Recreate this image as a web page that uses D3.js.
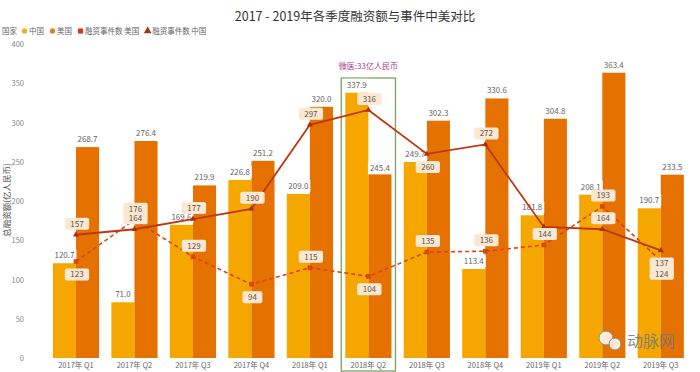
<!DOCTYPE html>
<html>
<head>
<meta charset="utf-8">
<script src="https://cdn.jsdelivr.net/npm/d3@7"></script>
<style>
  body { margin: 0; background: #fff; }
  svg { display: block; font-family: "Noto Sans CJK SC", "Noto Sans", sans-serif; }
</style>
</head>
<body>
<div id="chart"></div>
<script>
// chart values
const quarters = ['2017年 Q1', '2017年 Q2', '2017年 Q3', '2017年 Q4', '2018年 Q1', '2018年 Q2',
    '2018年 Q3', '2018年 Q4', '2019年 Q1', '2019年 Q2', '2019年 Q3'];
const chinaAmount = [120.7, 71.0, 169.6, 226.8, 209.0, 337.9, 249.7, 113.4, 181.8, 208.1, 190.7];
const usAmount = [268.7, 276.4, 219.9, 251.2, 320.0, 245.4, 302.3, 330.6, 304.8, 363.4, 233.5];
const chinaEvents = [157, 164, 177, 190, 297, 316, 260, 272, 167, 164, 137];
const usEvents = [123, 176, 129, 94, 115, 104, 135, 136, 144, 193, 124];
const yTicks = [0, 50, 100, 150, 200, 250, 300, 350, 400];
const highlightQuarter = '2018年 Q2';
const highlightNote = '微医:33亿人民币';

// where the event labels sit relative to their point (1 = above, -1 = below, 0 = hidden)
const chinaLabelSide = [1, 1, 1, 1, 1, 1, -1, 1, 0, 1, -1];
const usLabelSide = [-1, 1, 1, -1, 1, -1, 1, 1, 1, 1, -1];

const colors = {
    china: '#F5A700',
    us: '#E57200',
    chinaLine: '#BF360C',
    usLine: '#D9441A'
};

const width = 700, height = 372;
const svg = d3.select('#chart').append('svg')
    .attr('width', width)
    .attr('height', height);

// scales
const x = d3.scaleBand()
    .domain(quarters)
    .range([46.75, 690])
    .paddingInner(0.21)
    .paddingOuter(0.105);
const inner = d3.scaleBand()
    .domain(['china', 'us'])
    .range([0, x.bandwidth()]);
const y = d3.scaleLinear()
    .domain([0, 400])
    .range([358, 44]);

// title
svg.append('text')
    .attr('x', 355).attr('y', 21)
    .attr('text-anchor', 'middle')
    .attr('font-size', 12.5)
    .attr('fill', '#333')
    .text('2017 - 2019年各季度融资额与事件中美对比');

// legend
const legend = svg.append('g').attr('font-size', 7.5).attr('fill', '#666');
legend.append('text').attr('x', 2).attr('y', 34).text('国家');
let lx = 22;
const legendItems = [
    { label: '中国', shape: 'circle', color: '#F2B11E' },
    { label: '美国', shape: 'circle', color: '#D48A2C' },
    { label: '融资事件数 美国', shape: 'square', color: '#D8361A' },
    { label: '融资事件数 中国', shape: 'triangle', color: '#A8320F' }
];
legendItems.forEach(item => {
    const sym = item.shape === 'circle' ? d3.symbolCircle
        : item.shape === 'square' ? d3.symbolSquare : d3.symbolTriangle;
    legend.append('path')
        .attr('d', d3.symbol().type(sym).size(item.shape === 'circle' ? 22 : 26)())
        .attr('transform', `translate(${lx + 2.5},31)`)
        .attr('fill', item.color);
    const t = legend.append('text').attr('x', lx + 7).attr('y', 34).text(item.label);
    lx += 7 + t.node().getComputedTextLength() + 6;
});

// y axis ticks
svg.append('g')
    .selectAll('text')
    .data(yTicks)
    .join('text')
    .attr('x', 24)
    .attr('y', d => y(d) + 3)
    .attr('text-anchor', 'end')
    .attr('font-size', 7.5)
    .attr('fill', '#888')
    .text(d => d);

// y axis title
svg.append('text')
    .attr('transform', 'translate(10,200) rotate(-90)')
    .attr('text-anchor', 'middle')
    .attr('font-size', 8.5)
    .attr('fill', '#555')
    .text('总融资额(亿人民币)');

// x labels
svg.append('g')
    .selectAll('text')
    .data(quarters)
    .join('text')
    .attr('x', d => x(d) + x.bandwidth() / 2)
    .attr('y', 368)
    .attr('text-anchor', 'middle')
    .attr('font-size', 7.5)
    .attr('fill', '#666')
    .text(d => d);

// bars
const groups = svg.append('g')
    .selectAll('g')
    .data(quarters)
    .join('g')
    .attr('transform', d => `translate(${x(d)},0)`);

groups.append('rect')
    .attr('x', inner('china'))
    .attr('width', inner.bandwidth())
    .attr('y', (d, i) => y(chinaAmount[i]))
    .attr('height', (d, i) => y(0) - y(chinaAmount[i]))
    .attr('fill', colors.china);

groups.append('rect')
    .attr('x', inner('us'))
    .attr('width', inner.bandwidth())
    .attr('y', (d, i) => y(usAmount[i]))
    .attr('height', (d, i) => y(0) - y(usAmount[i]))
    .attr('fill', colors.us);

// highlight box around one quarter
const hx = x(highlightQuarter);
svg.append('rect')
    .attr('x', hx - 4)
    .attr('y', 78)
    .attr('width', x.bandwidth() + 8)
    .attr('height', 293)
    .attr('fill', 'none')
    .attr('stroke', '#7DA35C')
    .attr('stroke-width', 1.3);
svg.append('text')
    .attr('x', hx + x.bandwidth() / 2)
    .attr('y', 69)
    .attr('text-anchor', 'middle')
    .attr('font-size', 8)
    .attr('fill', '#B0378E')
    .text(highlightNote);

// label with a background box
function boxLabel(g, cx, cy, txt, fill, opts = {}) {
    const lg = g.append('g');
    const rect = lg.append('rect');
    const t = lg.append('text')
        .attr('x', cx)
        .attr('y', cy + 3)
        .attr('text-anchor', 'middle')
        .attr('font-size', 8)
        .attr('fill', opts.color || '#555')
        .text(txt);
    const w = t.node().getComputedTextLength() + (opts.pad || 4);
    rect.attr('x', cx - w / 2)
        .attr('y', cy - 6)
        .attr('width', w)
        .attr('height', 12)
        .attr('rx', opts.rx || 0)
        .attr('fill', fill);
}

// bar value labels
const barLabels = svg.append('g');
quarters.forEach((q, i) => {
    const cxC = x(q) + inner('china') + inner.bandwidth() / 2;
    const cxU = x(q) + inner('us') + inner.bandwidth() / 2;
    boxLabel(barLabels, cxC, y(chinaAmount[i]) - 8, chinaAmount[i].toFixed(1), '#fff', { color: '#666' });
    // the label sits inside the bar top when a line point crowds it
    const uy = q === highlightQuarter ? y(usAmount[i]) + 3 : y(usAmount[i]) - 8;
    boxLabel(barLabels, cxU, uy, usAmount[i].toFixed(1), '#fff', { color: '#666' });
});

// event lines
const cx = (d, i) => x(quarters[i]) + x.bandwidth() / 2;
const line = d3.line()
    .x(cx)
    .y(d => y(d));

svg.append('path')
    .attr('d', line(usEvents))
    .attr('fill', 'none')
    .attr('stroke', colors.usLine)
    .attr('stroke-width', 1.6)
    .attr('stroke-dasharray', '4,3');

svg.append('path')
    .attr('d', line(chinaEvents))
    .attr('fill', 'none')
    .attr('stroke', colors.chinaLine)
    .attr('stroke-width', 1.8);

svg.append('g')
    .selectAll('path')
    .data(usEvents)
    .join('path')
    .attr('d', d3.symbol().type(d3.symbolSquare).size(22)())
    .attr('transform', (d, i) => `translate(${cx(d, i)},${y(d)})`)
    .attr('fill', colors.usLine);

svg.append('g')
    .selectAll('path')
    .data(chinaEvents)
    .join('path')
    .attr('d', d3.symbol().type(d3.symbolTriangle).size(16)())
    .attr('transform', (d, i) => `translate(${cx(d, i)},${y(d)})`)
    .attr('fill', '#A8320F');

// event labels
const eventLabels = svg.append('g');
function eventLabel(values, sides) {
    values.forEach((v, i) => {
        if (!sides[i]) return;
        const ly = sides[i] > 0 ? y(v) - 11 : y(v) + 13;
        boxLabel(eventLabels, cx(v, i) + 1, ly, v, '#FCE7D0', { pad: 11, rx: 2, color: '#555' });
    });
}
eventLabel(chinaEvents, chinaLabelSide);
eventLabel(usEvents, usLabelSide);

// watermark
const wm = svg.append('g').attr('opacity', 0.85);
wm.append('circle').attr('cx', 606).attr('cy', 338).attr('r', 7).attr('fill', '#fff').attr('stroke', '#888');
wm.append('circle').attr('cx', 615).attr('cy', 344).attr('r', 6).attr('fill', '#fff').attr('stroke', '#888');
wm.append('text')
    .attr('x', 627).attr('y', 347)
    .attr('font-size', 16)
    .attr('fill', '#777')
    .text('动脉网');
</script>
</body>
</html>
